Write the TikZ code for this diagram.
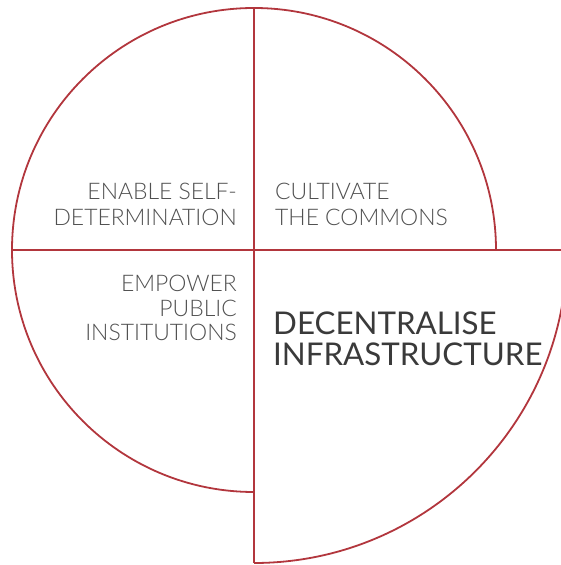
\documentclass[tikz,border=0pt]{standalone}
\usepackage{fontspec}
\setmainfont{Lato}
\newfontfamily\latolight{Lato Light}
\usepackage{tikz}
\usetikzlibrary{positioning}
\definecolor{rim}{HTML}{B2363D}
\definecolor{ink}{HTML}{505050}
\definecolor{darkink}{HTML}{3A3A3A}
\tikzstyle{rimline} = [draw=rim, line width=1.8pt]
\tikzstyle{small} = [inner sep=0pt, text=ink, font=\latolight\fontsize{22.9}{26}\selectfont]
\tikzstyle{big} = [inner sep=0pt, text=darkink, font=\fontsize{31.3}{30.5}\selectfont]

\begin{document}
\begin{tikzpicture}[x=1pt,y=1pt]
  \useasboundingbox (0,0) rectangle (561,565);
  \clip (0,0) rectangle (561,565);
  \coordinate (c) at (254,315);
  \coordinate (top) at (254,557);
  \coordinate (bottom) at (254,2);
  \coordinate (left) at (12,315);
  \coordinate (right) at (567,315);
  % quadrants
  \draw [rimline] (left) -- (right);
  \draw [rimline] (top) -- (bottom);
  \draw [rimline] (496,315) arc (0:270:242);
  \draw [rimline] (bottom) arc (-90:0:313);
  % labels
  \node [small, anchor=north east, align=right] (self) at (237,382) {ENABLE SELF-\\DETERMINATION};
  \node [small, anchor=north west, align=left] (commons) at (275,382) {CULTIVATE\\THE COMMONS};
  \node [small, anchor=north east, align=right, font=\latolight\fontsize{22.9}{24.5}\selectfont] (public) at (237,290) {EMPOWER\\PUBLIC\\INSTITUTIONS};
  \node [big, anchor=north west, align=left] (infra) at (273,253) {DECENTRALISE\\INFRASTRUCTURE};
\end{tikzpicture}
\end{document}
